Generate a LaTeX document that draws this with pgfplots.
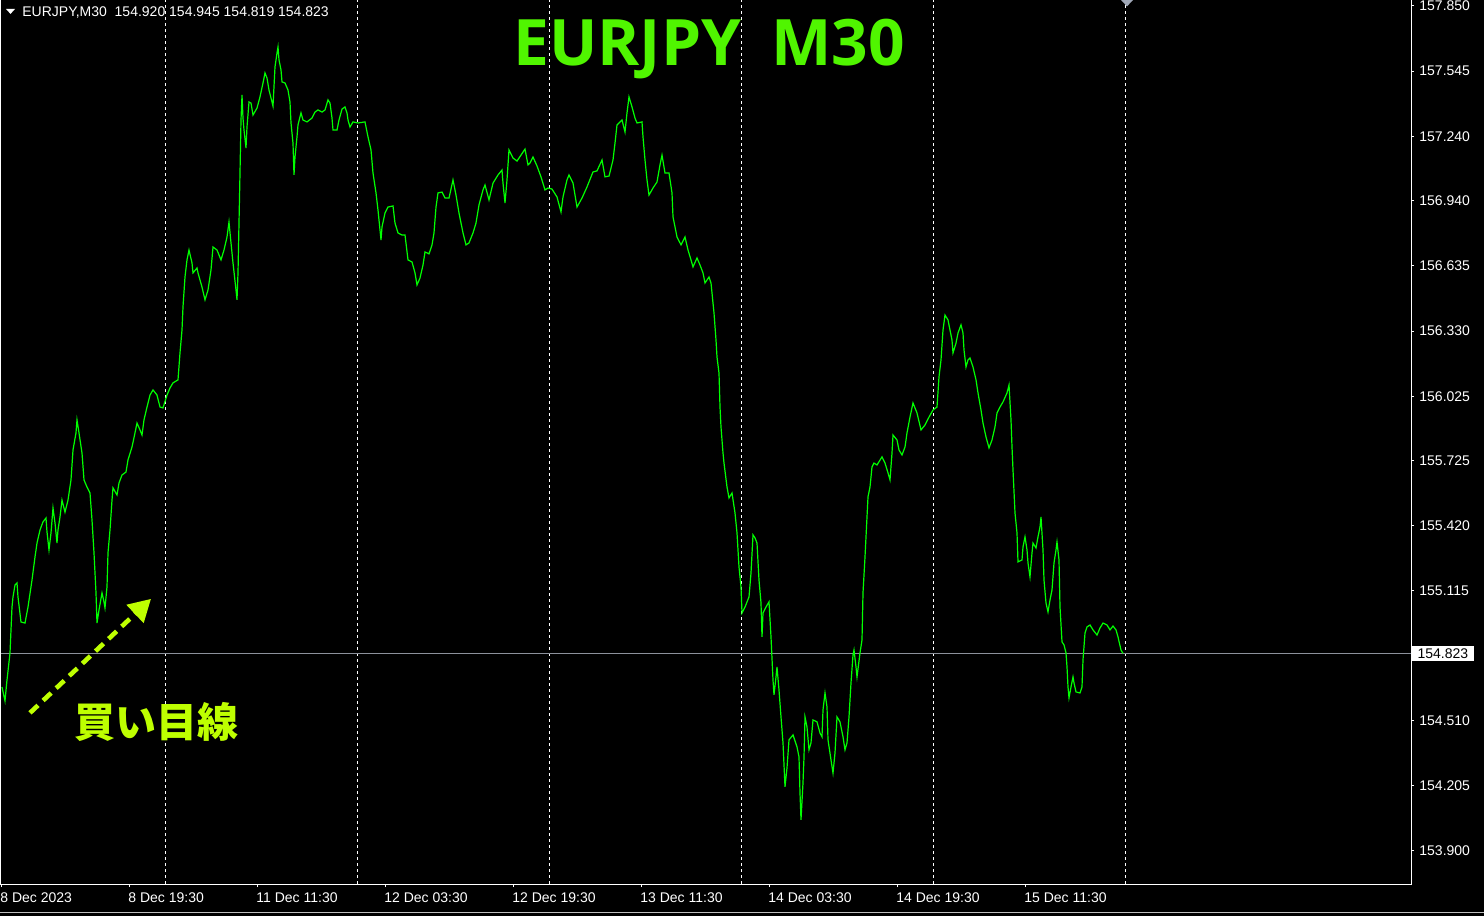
\documentclass[border=0pt]{standalone}
\usepackage{fontspec}
\setmainfont{Liberation Sans}
\newfontfamily\titlefont{Open Sans}
\newfontfamily\cjk{Noto Sans CJK JP}
\usepackage{pgfplots}
\pgfplotsset{compat=1.18}
\usetikzlibrary{arrows.meta}
\definecolor{linegreen}{RGB}{0,255,0}
\definecolor{titlegreen}{RGB}{80,245,0}
\definecolor{jpgreen}{RGB}{190,255,0}
\definecolor{pricegray}{RGB}{140,145,155}
\definecolor{markergray}{RGB}{160,168,184}
\begin{document}
\begin{tikzpicture}
\fill[black] (0,0) rectangle (742pt,458pt);
\useasboundingbox (0,0) rectangle (742pt,458pt);
\draw[white!75!black, line width=0.5pt] (0,1.5pt) -- (742pt,1.5pt);
\begin{axis}[
  at={(0pt,16pt)}, anchor=south west,
  width=705.5pt, height=442pt, scale only axis,
  xmin=0, xmax=1411, ymin=153.745, ymax=157.878,
  axis line style={draw=none},
  clip=false,
  xtick={1,129,257,385,513,641,769,897,1025},
  xticklabels={8 Dec 2023,8 Dec 19:30,11 Dec 11:30,12 Dec 03:30,12 Dec 19:30,13 Dec 11:30,14 Dec 03:30,14 Dec 19:30,15 Dec 11:30},
  ytick={157.850,157.545,157.240,156.940,156.635,156.330,156.025,155.725,155.420,155.115,154.510,154.205,153.900},
  yticklabels={157.850,157.545,157.240,156.940,156.635,156.330,156.025,155.725,155.420,155.115,154.510,154.205,153.900},
  xtick pos=left, ytick pos=right,
  tick align=outside, major tick length=1.5pt,
  tick style={white, line width=0.5pt},
  tick label style={font=\fontsize{7}{8}\selectfont, text=white},
  xticklabel style={anchor=north west, inner sep=0pt, xshift=-0.5pt, yshift=-2.5pt},
  yticklabel style={anchor=west, inner sep=0pt, xshift=2.5pt},
  extra x ticks={165,357,549,741,933,1125},
  extra x tick labels={},
  extra x tick style={grid=major, major tick length=0pt, major grid style={white, line width=0.5pt, dash pattern=on 1.5pt off 1.5pt}},
]
\addplot[color=pricegray, line width=0.5pt] coordinates {(0,154.823) (1411,154.823)};
\addplot[color=linegreen, line width=0.6pt] coordinates {
(2,154.666) (5,154.601) (7,154.699) (10,154.825) (12,155.040) (13,155.087) (15,155.143) (17,155.152) (18,155.087) (21,154.970) (25,154.965) (28,155.040) (32,155.166) (35,155.274) (37,155.339) (40,155.400) (43,155.438) (46,155.456) (47,155.391) (49,155.307) (51,155.386) (53,155.503) (55,155.433) (57,155.339) (58,155.400) (60,155.461) (62,155.540) (65,155.484) (68,155.540) (71,155.634) (73,155.774) (76,155.854) (77,155.915) (79,155.854) (82,155.760) (84,155.634) (87,155.601) (90,155.573) (92,155.447) (94,155.293) (96,155.106) (97,154.965) (99,155.026) (102,155.106) (104,155.064) (105,155.036) (107,155.134) (108,155.293) (110,155.400) (112,155.540) (113,155.597) (117,155.564) (119,155.620) (122,155.657) (126,155.671) (128,155.728) (132,155.788) (135,155.854) (137,155.900) (140,155.868) (142,155.844) (144,155.915) (147,155.975) (150,156.031) (153,156.055) (157,156.031) (160,155.975) (163,155.971) (167,156.031) (170,156.064) (173,156.088) (178,156.102) (180,156.228) (182,156.335) (183,156.443) (185,156.583) (187,156.663) (189,156.709) (192,156.649) (193,156.602) (197,156.625) (198,156.602) (202,156.536) (205,156.476) (208,156.522) (211,156.616) (213,156.723) (217,156.709) (221,156.663) (224,156.709) (227,156.770) (229,156.840) (231,156.742) (233,156.649) (236,156.522) (237,156.476) (238,156.602) (239,156.835) (240,157.069) (241,157.317) (242,157.434) (243,157.326) (244,157.270) (246,157.186) (247,157.284) (249,157.401) (251,157.396) (253,157.340) (257,157.373) (260,157.425) (263,157.490) (265,157.537) (267,157.513) (269,157.457) (272,157.401) (273,157.382) (275,157.565) (277,157.630) (278,157.658) (279,157.598) (281,157.551) (282,157.495) (285,157.490) (288,157.457) (290,157.401) (291,157.303) (293,157.209) (294,157.060) (295,157.144) (297,157.238) (298,157.294) (301,157.350) (303,157.317) (307,157.308) (312,157.326) (315,157.354) (318,157.364) (322,157.354) (325,157.364) (328,157.411) (330,157.396) (332,157.326) (333,157.270) (337,157.270) (339,157.317) (342,157.368) (345,157.378) (347,157.350) (348,157.317) (350,157.284) (353,157.308) (358,157.303) (365,157.308) (368,157.238) (371,157.177) (373,157.069) (376,156.976) (378,156.896) (381,156.756) (382,156.817) (385,156.882) (388,156.910) (393,156.915) (395,156.835) (398,156.789) (402,156.779) (405,156.779) (408,156.663) (412,156.653) (415,156.602) (417,156.546) (420,156.578) (423,156.639) (425,156.700) (429,156.691) (432,156.733) (434,156.789) (436,156.910) (438,156.976) (442,156.980) (445,156.952) (449,156.952) (453,157.037) (456,156.966) (459,156.882) (463,156.789) (466,156.733) (469,156.742) (473,156.789) (476,156.835) (479,156.920) (483,156.990) (485,157.013) (489,156.943) (493,157.022) (498,157.060) (502,157.083) (503,157.022) (505,156.929) (507,157.037) (509,157.177) (513,157.139) (517,157.125) (521,157.153) (525,157.181) (528,157.107) (530,157.116) (533,157.144) (537,157.102) (541,157.051) (545,156.990) (548,156.999) (552,156.994) (557,156.957) (561,156.887) (563,156.957) (567,157.037) (569,157.060) (573,157.022) (577,156.910) (582,156.952) (587,157.004) (593,157.074) (597,157.079) (602,157.130) (605,157.051) (609,157.055) (613,157.130) (615,157.209) (617,157.294) (622,157.317) (625,157.261) (627,157.350) (629,157.425) (632,157.378) (635,157.326) (637,157.303) (642,157.308) (643,157.238) (645,157.130) (647,157.037) (649,156.966) (653,156.999) (657,157.027) (660,157.107) (662,157.153) (665,157.069) (669,157.069) (672,156.976) (673,156.864) (675,156.817) (677,156.770) (681,156.733) (685,156.770) (688,156.709) (691,156.663) (693,156.630) (697,156.672) (700,156.639) (703,156.602) (705,156.555) (709,156.583) (711,156.555) (713,156.461) (714,156.415) (716,156.288) (717,156.209) (719,156.134) (720,155.975) (721,155.882) (723,155.760) (724,155.713) (727,155.601) (729,155.550) (732,155.573) (735,155.480) (737,155.386) (739,155.227) (741,155.134) (742,155.012) (745,155.040) (749,155.087) (751,155.199) (753,155.377) (755,155.363) (757,155.339) (759,155.166) (761,155.059) (762,154.900) (763,155.012) (766,155.040) (769,155.064) (771,154.900) (773,154.699) (774,154.629) (776,154.713) (777,154.760) (779,154.652) (781,154.526) (783,154.405) (785,154.199) (787,154.288) (789,154.419) (793,154.442) (797,154.386) (799,154.339) (800,154.171) (801,154.045) (803,154.218) (804,154.339) (805,154.526) (807,154.479) (809,154.372) (811,154.405) (813,154.512) (817,154.503) (820,154.451) (822,154.433) (823,154.559) (825,154.638) (827,154.573) (828,154.419) (831,154.325) (833,154.264) (835,154.358) (837,154.526) (840,154.503) (843,154.433) (845,154.372) (847,154.405) (849,154.526) (851,154.685) (853,154.816) (854,154.839) (856,154.760) (857,154.713) (860,154.825) (862,154.886) (863,155.106) (865,155.274) (867,155.461) (868,155.555) (870,155.601) (872,155.695) (874,155.713) (877,155.704) (882,155.742) (885,155.713) (888,155.667) (890,155.634) (892,155.760) (893,155.844) (897,155.821) (899,155.774) (902,155.751) (905,155.788) (907,155.854) (910,155.928) (913,155.994) (917,155.947) (921,155.868) (925,155.891) (929,155.928) (933,155.961) (937,155.975) (939,156.116) (941,156.195) (943,156.335) (945,156.405) (948,156.382) (950,156.335) (952,156.288) (953,156.228) (956,156.274) (958,156.321) (961,156.359) (963,156.321) (964,156.242) (966,156.162) (968,156.195) (970,156.204) (973,156.162) (976,156.102) (978,156.041) (981,155.961) (983,155.900) (986,155.835) (989,155.784) (992,155.821) (995,155.882) (997,155.947) (1000,155.975) (1003,155.999) (1007,156.041) (1009,156.078) (1011,155.915) (1012,155.788) (1013,155.681) (1015,155.480) (1017,155.386) (1018,155.251) (1022,155.260) (1023,155.321) (1025,155.368) (1027,155.307) (1028,155.246) (1030,155.181) (1032,155.293) (1033,155.339) (1036,155.316) (1038,155.368) (1040,155.414) (1041,155.461) (1043,155.307) (1044,155.166) (1046,155.059) (1048,155.017) (1050,155.073) (1052,155.120) (1054,155.246) (1056,155.307) (1057,155.344) (1059,155.260) (1060,155.040) (1062,154.877) (1064,154.863) (1066,154.825) (1067,154.760) (1068,154.666) (1069,154.615) (1071,154.666) (1073,154.713) (1074,154.685) (1076,154.643) (1080,154.638) (1082,154.666) (1083,154.793) (1085,154.919) (1087,154.947) (1090,154.956) (1093,154.933) (1097,154.909) (1100,154.942) (1103,154.965) (1107,154.956) (1110,154.933) (1113,154.951) (1116,154.933) (1118,154.900) (1121,154.839) (1123,154.823)
};
% frame
\draw[white, line width=0.5pt] (rel axis cs:0,1) -- (rel axis cs:0,0) -- (rel axis cs:1,0) -- (rel axis cs:1,1);
% current price label
\node[anchor=west, fill=white, text=black, inner xsep=2.8pt, inner ysep=1.3pt, font=\fontsize{7}{8}\selectfont] at (axis cs:1411.5,154.823) {154.823};
% top info line
\fill[white] (axis cs:6,157.836) -- (axis cs:15,157.836) -- (axis cs:10.5,157.813) -- cycle;
\node[anchor=base west, inner sep=0pt, text=white, font=\fontsize{7}{8}\selectfont] at (axis cs:22,157.803) {EURJPY,M30\ \ 154.920 154.945 154.819 154.823};
% shift marker
\fill[markergray] (axis cs:1121,157.878) -- (axis cs:1133,157.878) -- (axis cs:1127,157.848) -- cycle;
% title
\node[anchor=base, inner sep=0pt, text=titlegreen, font=\titlefont\bfseries\fontsize{32}{36}\selectfont] at (axis cs:709,157.574) {EURJPY\hspace{15pt}M30};
% annotation
\draw[jpgreen, line width=2.3pt, dash pattern=on 5.5pt off 3.5pt, -{Triangle[length=11pt,width=12pt]}] (axis cs:30,154.545) -- (axis cs:151,155.078);
\node[inner sep=0pt, text=jpgreen, font=\cjk\bfseries\fontsize{20.5}{24}\selectfont] at (axis cs:157,154.503) {買い目線};
\end{axis}
\end{tikzpicture}
\end{document}
